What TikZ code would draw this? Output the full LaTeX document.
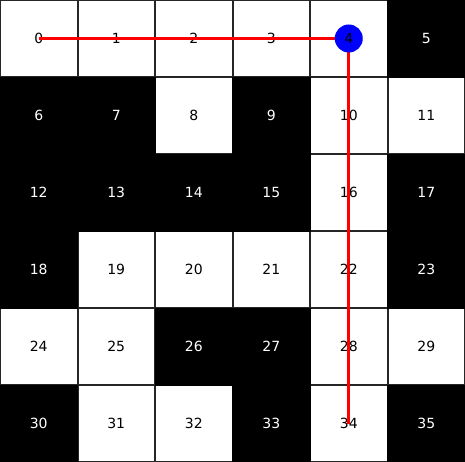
\documentclass[tikz,border=0pt]{standalone}
\usepackage{fontspec}
\setmainfont{DejaVu Sans}
\begin{document}
\begin{tikzpicture}[x=1pt,y=1pt,
  cellw/.style={draw=black!85,line width=0.8pt,fill=white,minimum width=76.3pt,minimum height=75.8pt,inner sep=0pt,outer sep=0pt},
  cellb/.style={draw=black,line width=0.8pt,fill=black,minimum width=77.5pt,minimum height=77pt,inner sep=0pt,outer sep=0pt},
  lblw/.style={text=black,font=\fontsize{14}{16}\selectfont,inner sep=0pt},
  lblb/.style={text=white,font=\fontsize{14}{16}\selectfont,inner sep=0pt},
  pathline/.style={draw=red,line width=2.6pt},
  agent/.style={circle,fill=blue,minimum size=28pt,inner sep=0pt}]
\fill[white] (0,0) rectangle (465,-462);
\useasboundingbox (0,0) rectangle (465,-462);
\foreach \r in {0,...,5}{
  \foreach \c in {0,...,5}{
    \pgfmathtruncatemacro{\n}{6*\r+\c}
    \node[cellw] (c\n) at ({77.5*\c+38.75},{-77*\r-38.5}) {};
  }
}
\foreach \n in {5,6,7,9,12,13,14,15,17,18,23,26,27,30,33,35}{
  \node[cellb] (b\n) at (c\n.center) {};
}
\foreach \n in {0,1,2,3,4,8,10,11,16,19,20,21,22,24,25,28,29,31,32,34}{
  \node[lblw] (t\n) at (c\n.center) {\n};
}
\foreach \n in {5,6,7,9,12,13,14,15,17,18,23,26,27,30,33,35}{
  \node[lblb] (t\n) at (c\n.center) {\n};
}
\draw[pathline] (c0.center) -- (c4.center) -- (c34.center);
\node[agent] (ag) at (c4.center) {};
\node[lblw] (t4b) at (c4.center) {4};
\end{tikzpicture}
\end{document}
